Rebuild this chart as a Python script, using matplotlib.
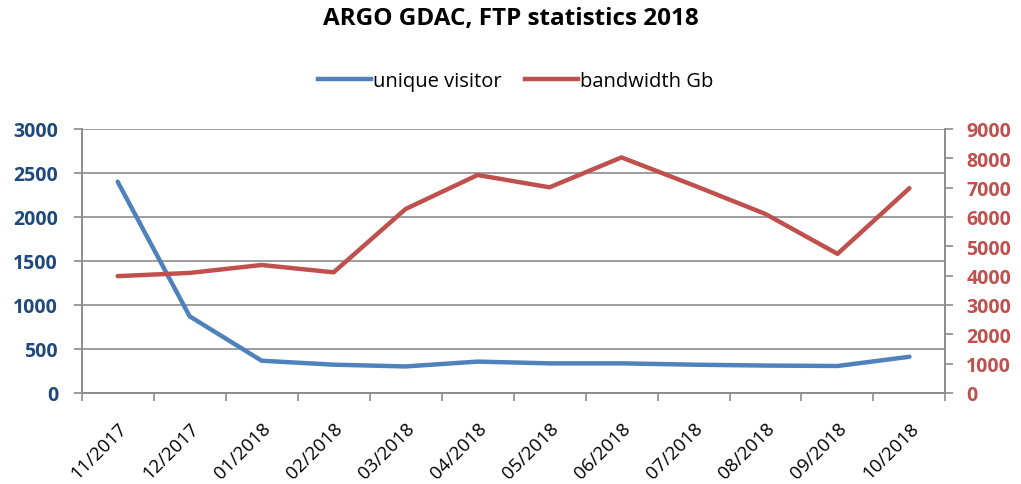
import matplotlib.pyplot as plt
from matplotlib.lines import Line2D

# data
months = ["11/2017", "12/2017", "01/2018", "02/2018", "03/2018", "04/2018",
          "05/2018", "06/2018", "07/2018", "08/2018", "09/2018", "10/2018"]
visitors = [2400, 870, 365, 320, 300, 355, 335, 335, 320, 310, 305, 410]
bandwidth = [3980, 4090, 4360, 4110, 6270, 7430, 7010, 8030, 7080, 6100, 4740, 6980]

blue = "#4F81BD"
red = "#C0504D"
navy = "#1F497D"
grey = "#8C8C8C"

plt.rcParams['font.family'] = ['Open Sans', 'DejaVu Sans']

fig = plt.figure(figsize=(10.21, 4.85), dpi=100)
ax = fig.add_axes([0.080, 0.188, 0.846, 0.544])
ax2 = ax.twinx()

x = list(range(len(months)))
ax.plot(x, visitors, color=blue, lw=3.2, solid_capstyle='round', zorder=3)
ax2.plot(x, bandwidth, color=red, lw=3.2, solid_capstyle='round', zorder=3)

ax.set_xlim(-0.5, len(months) - 0.5)
ax.set_ylim(0, 3000)
ax.set_yticks(range(0, 3001, 500))
ax2.set_ylim(0, 9000)
ax2.set_yticks(range(0, 9001, 1000))

# category ticks on boundaries, labels in between
ax.set_xticks([i - 0.5 for i in range(len(months) + 1)])
ax.set_xticklabels([])
ax.set_xticks(x, minor=True)
ax.set_xticklabels(months, minor=True, rotation=45, ha='right', va='top',
                   rotation_mode='anchor', fontsize=13.5)
ax.tick_params(axis='x', which='minor', length=0, pad=19)
ax.tick_params(axis='x', which='major', length=6, color=grey, width=1.2)

ax.grid(axis='y', color=grey, lw=1.2, zorder=0)
ax.set_axisbelow(True)

for s in ax.spines.values():
    s.set_color(grey)
    s.set_linewidth(1.2)
for s in ax2.spines.values():
    s.set_color(grey)
    s.set_linewidth(1.2)
ax.spines['top'].set_visible(False)
ax2.spines['top'].set_visible(False)

ax.tick_params(axis='y', length=6, color=grey, width=1.2, pad=11,
               labelsize=14, labelcolor=navy)
ax2.tick_params(axis='y', length=6, color=grey, width=1.2, pad=9,
                labelsize=14, labelcolor=red)
for t in ax.get_yticklabels():
    t.set_fontweight('bold')
for t in ax2.get_yticklabels():
    t.set_fontweight('bold')

fig.suptitle("ARGO GDAC, FTP statistics 2018", y=0.985, fontsize=17.5,
             fontweight='bold')

handles = [Line2D([], [], color=blue, lw=3.2), Line2D([], [], color=red, lw=3.2)]
fig.legend(handles, ["unique visitor", "bandwidth Gb"], loc='center',
           bbox_to_anchor=(0.505, 0.83), ncol=2, frameon=False,
           fontsize=14.5, handlelength=2.6, handletextpad=0.1, columnspacing=1.2)

fig.savefig("out.png", dpi=100)
